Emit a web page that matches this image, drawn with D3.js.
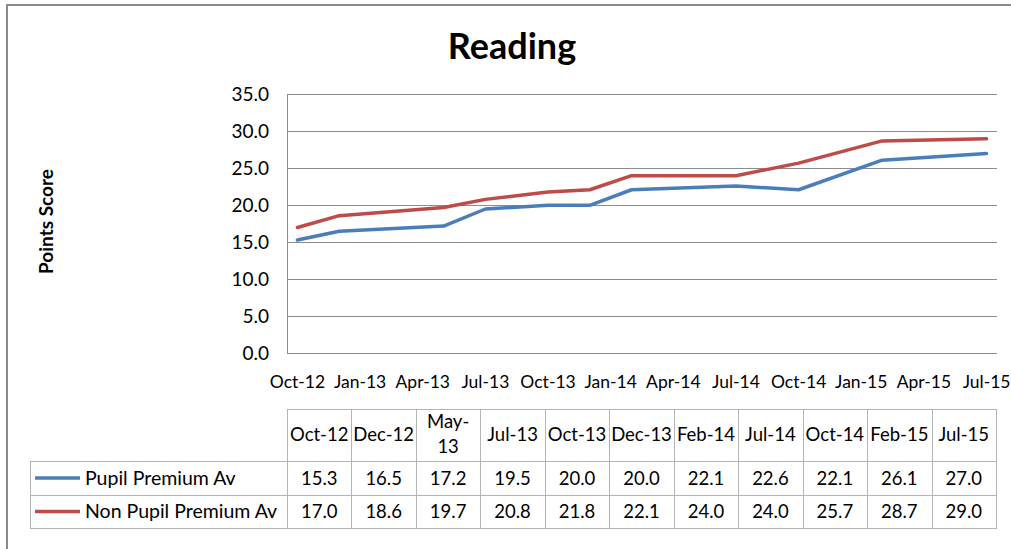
<!DOCTYPE html>
<html><head><meta charset="utf-8">
<script src="https://cdn.jsdelivr.net/npm/d3@7"></script>
<style>
body{margin:0;background:#fff}
svg{display:block}
text{font-family:Lato,"Open Sans",sans-serif;fill:#000}
</style>
</head><body>
<svg id="c" width="1011" height="549"></svg>
<script>
const chartTitle = "Reading";
const yTitle = "Points Score";
const dates = ["2012-10","2012-12","2013-05","2013-07","2013-10","2013-12","2014-02","2014-07","2014-10","2015-02","2015-07"];
const tableHeaders = ["Oct-12","Dec-12","May-13","Jul-13","Oct-13","Dec-13","Feb-14","Jul-14","Oct-14","Feb-15","Jul-15"];
const seriesNames = ["Pupil Premium Av","Non Pupil Premium Av"];
const pupilPremium = [15.3,16.5,17.2,19.5,20.0,20.0,22.1,22.6,22.1,26.1,27.0];
const nonPupilPremium = [17.0,18.6,19.7,20.8,21.8,22.1,24.0,24.0,25.7,28.7,29.0];
const yTicks = [0,5,10,15,20,25,30,35];
const colors = ["#4a7ebb","#be4b48"];

const svg = d3.select("#c");
const L = 287, R = 997, T = 94.3, B = 353.3;
const parse = d3.timeParse("%Y-%m");
const fmtKey = d3.timeFormat("%Y-%m");
const fmtLab = d3.timeFormat("%b-%y");
const months = d3.timeMonth.range(parse(dates[0]), d3.timeMonth.offset(parse(dates[dates.length-1]),1));
const x = d3.scaleBand().domain(months.map(fmtKey)).range([L,R]).padding(0);
const y = d3.scaleLinear().domain([0,35]).range([B,T]);
const xc = k => x(k) + x.bandwidth()/2;

// frame
svg.append("path").attr("d","M7,549V5H1011").attr("fill","none").attr("stroke","#8a8a8a").attr("stroke-width",2);

// title
svg.append("text").attr("x",512).attr("y",59).attr("text-anchor","middle")
  .attr("font-size",36).attr("font-weight","bold").text(chartTitle);

// y title
svg.append("text").attr("transform","translate(53,221.5) rotate(-90)").attr("text-anchor","middle")
  .attr("font-size",19).attr("font-weight","bold").text(yTitle);

// gridlines
svg.append("g").selectAll("line").data(yTicks).join("line")
  .attr("x1",L).attr("x2",R).attr("y1",d=>Math.round(y(d))+0.5).attr("y2",d=>Math.round(y(d))+0.5)
  .attr("stroke","#8c8c8c").attr("stroke-width",1);
svg.append("line").attr("x1",L+0.5).attr("x2",L+0.5).attr("y1",Math.round(T)).attr("y2",Math.round(B)+1)
  .attr("stroke","#8c8c8c");

// y axis
const ya = svg.append("g").attr("transform",`translate(${L},0)`)
  .call(d3.axisLeft(y).tickValues(yTicks).tickFormat(d3.format(".1f")).tickSize(0).tickPadding(18));
ya.select(".domain").remove();
ya.selectAll("text").attr("font-size",19).attr("font-family","Lato").attr("fill","#000");

// x axis
const xa = svg.append("g").attr("transform",`translate(0,${B})`)
  .call(d3.axisBottom(x).tickValues(months.filter((m,i)=>i%3===0).map(fmtKey))
    .tickFormat(k=>fmtLab(parse(k))).tickSize(0).tickPadding(22));
xa.select(".domain").remove();
xa.selectAll("text").attr("font-size",17.5).attr("font-family","Lato").attr("fill","#000");

// lines
const series = [pupilPremium, nonPupilPremium];
const line = d3.line().x((d,i)=>xc(dates[i])).y(d=>y(d));
svg.append("g").selectAll("path").data(series).join("path")
  .attr("d",line).attr("fill","none").attr("stroke",(d,i)=>colors[i])
  .attr("stroke-width",3.5).attr("stroke-linejoin","round").attr("stroke-linecap","round");

// data table
const tL = 30, tTop = 409, r1 = 461, r2 = 495, r3 = 528, tR = 996;
const cx = d3.scaleBand().domain(tableHeaders).range([L,tR]);
const tg = svg.append("g");
const gridC = "#b4b4b4";
const hl = (x1,x2,yy)=>tg.append("line").attr("x1",x1).attr("x2",x2).attr("y1",yy+0.5).attr("y2",yy+0.5).attr("stroke",gridC);
const vl = (xx,y1,y2)=>tg.append("line").attr("x1",xx+0.5).attr("x2",xx+0.5).attr("y1",y1).attr("y2",y2).attr("stroke",gridC);
hl(L,tR,tTop); hl(tL,tR,r1); hl(tL,tR,r2); hl(tL,tR,r3);
vl(tL,r1,r3+1);
tableHeaders.forEach(h=>vl(Math.round(cx(h)),tTop,r3+1));
vl(tR,tTop,r3+1);

// headers
tableHeaders.forEach(h=>{
  const t = tg.append("text").attr("x",cx(h)+cx.bandwidth()/2).attr("y",(tTop+r1)/2+6)
    .attr("text-anchor","middle").attr("font-size",18.5).text(h);
  if (t.node().getComputedTextLength() > cx.bandwidth()-3) {
    const parts = h.split("-");
    t.text(null);
    t.append("tspan").attr("x",cx(h)+cx.bandwidth()/2).attr("y",(tTop+r1)/2-7).text(parts[0]+"-");
    t.append("tspan").attr("x",cx(h)+cx.bandwidth()/2).attr("y",(tTop+r1)/2+18).text(parts[1]);
  }
});

// rows
const rowsY = [r1, r2];
series.forEach((s,si)=>{
  const yMid = (rowsY[si] + (si===0?r2:r3))/2;
  tg.append("line").attr("x1",35).attr("x2",80).attr("y1",yMid).attr("y2",yMid)
    .attr("stroke",colors[si]).attr("stroke-width",3.5);
  tg.append("text").attr("x",85).attr("y",yMid+6.5).attr("font-size",19.5).text(seriesNames[si]);
  s.forEach((v,i)=>{
    tg.append("text").attr("x",cx(tableHeaders[i])+cx.bandwidth()/2).attr("y",yMid+6.5)
      .attr("text-anchor","middle").attr("font-size",18.5).text(d3.format(".1f")(v));
  });
});
</script>
</body></html>
